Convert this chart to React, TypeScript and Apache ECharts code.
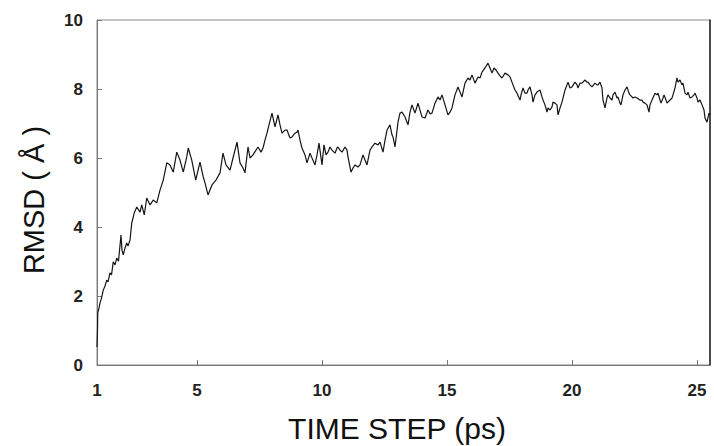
import React, { useEffect, useRef } from "react";
import * as echarts from "echarts";

const time = [
  1.00, 1.02, 1.03, 1.08, 1.12, 1.18, 1.25, 1.32, 1.39, 1.44, 1.52, 1.58, 1.65, 1.72, 1.79, 1.86, 1.96, 2.00, 2.05, 2.12,
  2.19, 2.24, 2.32, 2.39, 2.44, 2.49, 2.54, 2.59, 2.72, 2.79, 2.89, 2.99, 3.12, 3.25, 3.39, 3.52, 3.65, 3.79, 3.92, 4.05,
  4.19, 4.32, 4.45, 4.59, 4.65, 4.79, 4.95, 5.12, 5.25, 5.32, 5.44, 5.60, 5.76, 5.92, 6.04, 6.16, 6.32, 6.44, 6.60, 6.72,
  6.84, 6.92, 7.04, 7.12, 7.24, 7.36, 7.44, 7.56, 7.64, 7.72, 7.80, 7.88, 8.00, 8.12, 8.24, 8.32, 8.40, 8.52, 8.60, 8.72,
  8.80, 8.92, 9.00, 9.04, 9.12, 9.20, 9.32, 9.40, 9.52, 9.60, 9.72, 9.80, 9.88, 10.00, 10.08, 10.16, 10.24, 10.32, 10.40, 10.52,
  10.60, 10.64, 10.72, 10.80, 10.92, 11.00, 11.04, 11.16, 11.24, 11.32, 11.44, 11.52, 11.64, 11.72, 11.80, 11.92, 12.00, 12.12, 12.24, 12.32,
  12.44, 12.52, 12.60, 12.72, 12.80, 12.84, 12.92, 13.04, 13.12, 13.20, 13.32, 13.44, 13.52, 13.60, 13.72, 13.84, 13.92, 14.00, 14.12, 14.24,
  14.32, 14.40, 14.52, 14.64, 14.72, 14.80, 14.92, 15.04, 15.12, 15.20, 15.32, 15.44, 15.52, 15.60, 15.72, 15.84, 15.92, 16.00, 16.12, 16.24,
  16.32, 16.40, 16.52, 16.64, 16.72, 16.80, 16.88, 16.96, 17.04, 17.12, 17.20, 17.32, 17.44, 17.52, 17.64, 17.72, 17.80, 17.92, 17.96, 18.04,
  18.12, 18.20, 18.24, 18.32, 18.40, 18.44, 18.52, 18.60, 18.72, 18.80, 18.84, 18.92, 19.00, 19.04, 19.12, 19.20, 19.24, 19.32, 19.40, 19.44,
  19.52, 19.60, 19.72, 19.80, 19.84, 19.92, 20.00, 20.12, 20.20, 20.24, 20.32, 20.40, 20.52, 20.60, 20.64, 20.72, 20.80, 20.92, 21.00, 21.04,
  21.12, 21.20, 21.24, 21.32, 21.40, 21.44, 21.52, 21.60, 21.64, 21.72, 21.80, 21.84, 21.92, 21.96, 22.04, 22.12, 22.20, 22.28, 22.32, 22.40,
  22.44, 22.52, 22.60, 22.72, 22.80, 22.84, 22.92, 23.00, 23.08, 23.12, 23.20, 23.32, 23.40, 23.44, 23.52, 23.56, 23.64, 23.68, 23.76, 23.80,
  23.92, 24.00, 24.04, 24.12, 24.20, 24.24, 24.32, 24.40, 24.44, 24.52, 24.60, 24.64, 24.72, 24.80, 24.88, 24.92, 25.00, 25.04, 25.12, 25.20,
  25.28, 25.32, 25.40, 25.48, 25.52,
];

const rmsd = [
  0.52, 1.01, 1.51, 1.65, 1.80, 1.94, 2.17, 2.29, 2.46, 2.41, 2.67, 2.61, 2.99, 2.90, 3.10, 3.01, 3.77, 3.33, 3.19, 3.39,
  3.54, 3.45, 3.62, 4.12, 4.26, 4.41, 4.49, 4.58, 4.43, 4.64, 4.35, 4.84, 4.64, 4.78, 4.70, 5.07, 5.36, 5.86, 5.80, 5.59,
  6.17, 5.94, 5.59, 6.03, 6.29, 5.94, 5.36, 5.88, 5.45, 5.28, 4.93, 5.22, 5.36, 5.57, 6.14, 5.80, 5.65, 6.00, 6.46, 5.86,
  5.71, 5.57, 6.32, 6.00, 6.09, 6.23, 6.32, 6.17, 6.29, 6.52, 6.72, 6.96, 7.30, 6.90, 7.25, 6.96, 6.72, 6.81, 6.81, 6.58,
  6.61, 6.72, 6.75, 6.81, 6.52, 6.29, 6.09, 5.86, 6.14, 6.00, 5.80, 6.09, 6.43, 5.80, 6.38, 6.09, 6.17, 6.32, 6.23, 6.14,
  6.29, 6.32, 6.23, 6.17, 6.32, 6.23, 6.03, 5.59, 5.71, 5.80, 5.74, 5.80, 6.09, 5.94, 5.80, 6.23, 6.32, 6.43, 6.38, 6.46,
  6.17, 6.52, 6.81, 6.96, 6.67, 6.61, 6.32, 7.04, 7.30, 7.33, 7.19, 6.96, 7.33, 7.54, 7.30, 7.59, 7.39, 7.19, 7.16, 7.39,
  7.28, 7.30, 7.59, 7.77, 7.68, 7.83, 7.54, 7.25, 7.33, 7.45, 7.83, 8.06, 7.91, 7.77, 8.17, 8.32, 8.26, 8.41, 8.17, 8.35,
  8.32, 8.49, 8.61, 8.75, 8.61, 8.46, 8.61, 8.55, 8.46, 8.38, 8.32, 8.46, 8.41, 8.35, 8.12, 7.97, 7.88, 7.68, 7.83, 8.03,
  7.88, 7.88, 7.97, 8.06, 7.83, 7.62, 7.83, 7.91, 7.97, 7.77, 7.68, 7.54, 7.33, 7.45, 7.39, 7.48, 7.62, 7.59, 7.54, 7.25,
  7.45, 7.62, 7.97, 8.12, 8.20, 8.03, 8.06, 8.20, 8.12, 8.03, 8.17, 8.17, 8.26, 8.20, 8.20, 8.12, 8.06, 8.17, 8.12, 8.12,
  8.20, 8.03, 7.68, 7.45, 7.74, 7.83, 7.74, 7.68, 7.83, 7.91, 7.74, 7.77, 7.59, 7.54, 7.83, 7.97, 8.06, 7.88, 7.83, 7.77,
  7.74, 7.77, 7.74, 7.68, 7.68, 7.62, 7.59, 7.54, 7.33, 7.54, 7.68, 7.88, 7.83, 7.88, 7.68, 7.59, 7.74, 7.83, 7.68, 7.59,
  7.68, 7.74, 7.83, 8.03, 8.32, 8.20, 8.26, 8.12, 8.17, 7.88, 7.83, 7.91, 7.74, 7.77, 7.83, 7.88, 7.74, 7.62, 7.68, 7.54,
  7.39, 7.16, 7.04, 7.30, 7.25,
];

const xTickValues = [1, 5, 10, 15, 20, 25];
const xTitle = "TIME STEP (ps)";
const yTitle = "RMSD ( Å )";

export default function App() {
  const ref = useRef<HTMLDivElement>(null);
  useEffect(() => {
    if (!ref.current) return;
    const chart = echarts.init(ref.current, null, { renderer: "svg" });
    const labelFont = {
      fontFamily: "Liberation Sans, Arial, sans-serif",
      fontSize: 17,
      fontWeight: "bold" as const,
      color: "#222",
    };
    chart.setOption({
      animation: false,
      backgroundColor: "#fff",
      grid: {
        left: 97,
        right: 4,
        top: 20,
        bottom: 81,
        show: true,
        borderColor: "#8a8a8a",
        borderWidth: 1,
      },
      xAxis: {
        type: "value",
        min: 1,
        max: 25.52,
        axisLine: { show: true, lineStyle: { color: "#777", width: 1 } },
        axisTick: {
          show: true,
          inside: true,
          length: 5,
          customValues: xTickValues,
          lineStyle: { color: "#777" },
        },
        axisLabel: {
          ...labelFont,
          margin: 17,
          customValues: xTickValues,
        },
        splitLine: { show: false },
      },
      yAxis: [
        {
          type: "value",
          min: 0,
          max: 10,
          interval: 2,
          axisLine: { show: true, lineStyle: { color: "#777", width: 1 } },
          axisTick: { show: true, inside: true, length: 5, lineStyle: { color: "#777" } },
          axisLabel: { ...labelFont, margin: 14 },
          splitLine: { show: false },
        },
        {
          type: "value",
          position: "right",
          min: 0,
          max: 10,
          interval: 2,
          axisLine: { show: true, lineStyle: { color: "#222", width: 1.5 } },
          axisTick: { show: false },
          axisLabel: { show: false },
          splitLine: { show: false },
        },
      ],
      graphic: [
        {
          type: "text",
          x: 397,
          y: 428,
          style: {
            text: xTitle,
            fontFamily: "Liberation Sans, Arial, sans-serif",
            fontSize: 30,
            fill: "#111",
            align: "center",
            verticalAlign: "middle",
          },
        },
        {
          type: "text",
          x: 34,
          y: 200,
          rotation: Math.PI / 2,
          style: {
            text: yTitle,
            fontFamily: "Liberation Sans, Arial, sans-serif",
            fontSize: 29,
            fill: "#111",
            align: "center",
            verticalAlign: "middle",
          },
        },
      ],
      series: [
        {
          type: "line",
          data: time.map((t, i) => [t, rmsd[i]]),
          showSymbol: false,
          symbol: "none",
          lineStyle: { color: "#151515", width: 1.2 },
          clip: true,
        },
      ],
    });
    return () => chart.dispose();
  }, []);
  return (
    <div
      ref={ref}
      style={{ position: "fixed", left: 0, top: 0, width: 714, height: 446 }}
    />
  );
}
